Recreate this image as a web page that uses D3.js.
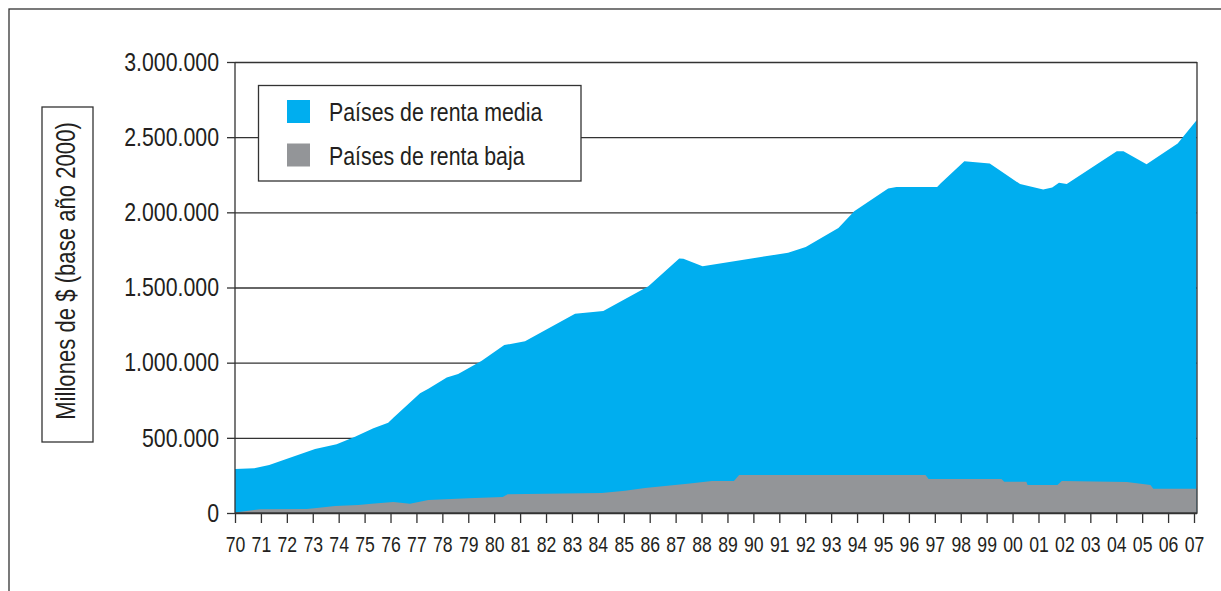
<!DOCTYPE html>
<html>
<head>
<meta charset="utf-8">
<script src="https://cdn.jsdelivr.net/npm/d3@7"></script>
<style>
  body { margin: 0; background: #fff; }
  svg { display: block; font-family: "Liberation Sans", Arial, sans-serif; }
</style>
</head>
<body>
<svg id="canvas"></svg>
<script>
// years (fractional where the printed outline bends between ticks)
let totalYears = [1970, 1970.74, 1971.32, 1972.12, 1973.09, 1973.92, 1974.63, 1975.34, 1975.91, 1976.11,
  1977.14, 1977.46, 1978.17, 1978.61, 1979.52, 1980.39, 1981.19, 1983.12, 1984.21, 1985.95,
  1987.14, 1987.3, 1988.04, 1988.71, 1991.34, 1992.02, 1993.28, 1993.89, 1995.2, 1995.52,
  1997.09, 1997.22, 1998.14, 1999.12, 2000.29, 2001.18, 2001.53, 2001.79, 2002.09, 2004.02,
  2004.28, 2005.17, 2006.37, 2007.1];
// top of the stack (renta media + renta baja), millones de $
let totalValues = [293000, 297000, 319000, 368000, 426000, 457000, 507000, 563000, 600000, 634000,
  796000, 826000, 902000, 924000, 1013000, 1117000, 1142000, 1325000, 1343000, 1509000,
  1693000, 1691000, 1642000, 1660000, 1731000, 1769000, 1895000, 2008000, 2159000, 2168000,
  2168000, 2192000, 2340000, 2325000, 2188000, 2152000, 2166000, 2196000, 2188000, 2407000,
  2407000, 2320000, 2458000, 2613000];

let bajaYears = [1970, 1970.96, 1972.77, 1973.15, 1973.86, 1974.76, 1975.27, 1976.11, 1976.75, 1977.46,
  1979.0, 1980.33, 1980.52, 1984.15, 1985.05, 1985.82, 1987.55, 1988.4, 1989.25, 1989.45,
  1996.64, 1996.76, 1999.57, 1999.68, 2000.53, 2000.58, 2001.73, 2001.9, 2004.41, 2005.32,
  2005.43, 2007.1];
let bajaValues = [3000, 25000, 27000, 33000, 47000, 53000, 62000, 73000, 62000, 86000,
  98000, 106000, 124000, 133000, 148000, 166000, 197000, 213000, 213000, 253000,
  253000, 226000, 226000, 208000, 208000, 186000, 186000, 213000, 206000, 186000,
  162000, 162000];

let tickYears = d3.range(1970, 2008);
let yTicks = [0, 500000, 1000000, 1500000, 2000000, 2500000, 3000000];
let seriesNames = ["Países de renta media", "Países de renta baja"];
let seriesColors = ["#00aeef", "#939598"];
let yTitle = "Millones de $ (base año 2000)";

let width = 1221;
let height = 591;
let plotLeft = 235;
let plotRight = 1197;
let plotTop = 62;
let plotBottom = 513;
let ink = "#333";
let textInk = "#231f20";
let narrow = " scale(0.82,1)"; // the print uses a condensed face

let canvas = d3.select("#canvas").attr("width", width).attr("height", height);

let xScale = d3.scaleLinear().domain([1970, 2007]).range([plotLeft, 1194]);
let yScale = d3.scaleLinear().domain([0, 3000000]).range([plotBottom, plotTop]);

let esFormat = d3.formatLocale({ decimal: ",", thousands: ".", grouping: [3], currency: ["", "$"] }).format(",d");

// outer frame, runs off the right and bottom of the picture
canvas.append("rect")
  .attr("x", 9).attr("y", 9).attr("width", 1240).attr("height", 620)
  .attr("fill", "none").attr("stroke", ink).attr("stroke-width", 1.3);

// gridlines
canvas.append("g")
  .attr("transform", "translate(" + plotLeft + ",0)")
  .call(d3.axisLeft(yScale).tickValues(yTicks).tickSize(-(plotRight - plotLeft)).tickFormat(""))
  .call((g) => g.select(".domain").remove())
  .call((g) => g.selectAll("line").attr("stroke", ink).attr("stroke-width", 1.3));

// areas
let totalArea = d3.area()
  .x((d, i) => xScale(totalYears[i]))
  .y0(yScale(0))
  .y1((d) => yScale(d));
let bajaArea = d3.area()
  .x((d, i) => xScale(bajaYears[i]))
  .y0(yScale(0))
  .y1((d) => yScale(d));

canvas.append("path").datum(totalValues).attr("d", totalArea).attr("fill", seriesColors[0]);
canvas.append("path").datum(bajaValues).attr("d", bajaArea).attr("fill", seriesColors[1]);

// y axis
canvas.append("g")
  .attr("transform", "translate(" + plotLeft + ",0)")
  .call(d3.axisLeft(yScale).tickValues(yTicks).tickSize(8).tickPadding(8).tickFormat(esFormat))
  .call((g) => g.select(".domain").remove())
  .call((g) => g.selectAll("line").attr("stroke", ink).attr("stroke-width", 1.3))
  .call((g) => g.selectAll("text")
    .attr("font-size", 26).attr("fill", textInk)
    .attr("x", 0).attr("transform", "translate(-16,0)" + narrow));

// x axis
canvas.append("g")
  .attr("transform", "translate(0," + plotBottom + ")")
  .call(d3.axisBottom(xScale).tickValues(tickYears).tickSize(10).tickPadding(14)
    .tickFormat((d) => String(d).slice(2)))
  .call((g) => g.select(".domain").remove())
  .call((g) => g.selectAll("line").attr("stroke", ink).attr("stroke-width", 1.3))
  .call((g) => g.selectAll("text")
    .attr("font-size", 21.5).attr("fill", textInk)
    .attr("y", 0).attr("transform", "translate(0,23.5)" + narrow));

// plot frame (left, bottom, right)
canvas.append("path")
  .attr("d", "M" + plotLeft + "," + plotTop + "V" + plotBottom + "H" + plotRight + "V" + plotTop)
  .attr("fill", "none").attr("stroke", ink).attr("stroke-width", 1.3);

// legend
let legend = canvas.append("g");
legend.append("rect")
  .attr("x", 258.5).attr("y", 85.5).attr("width", 322.5).attr("height", 95.5)
  .attr("fill", "#fff").attr("stroke", ink).attr("stroke-width", 1.3);
seriesNames.forEach((name, i) => {
  legend.append("rect")
    .attr("x", 287).attr("y", 100 + i * 43.5).attr("width", 23).attr("height", 23)
    .attr("fill", seriesColors[i]);
  legend.append("text")
    .attr("transform", "translate(329," + (121 + i * 43.5) + ")" + narrow)
    .attr("font-size", 26).attr("fill", textInk)
    .text(name);
});

// y title in its box
canvas.append("rect")
  .attr("x", 42).attr("y", 107).attr("width", 51).attr("height", 335)
  .attr("fill", "#fff").attr("stroke", ink).attr("stroke-width", 1.3);
canvas.append("text")
  .attr("transform", "translate(75,271) rotate(-90)" + narrow)
  .attr("text-anchor", "middle")
  .attr("font-size", 27).attr("fill", textInk)
  .text(yTitle);
</script>
</body>
</html>
